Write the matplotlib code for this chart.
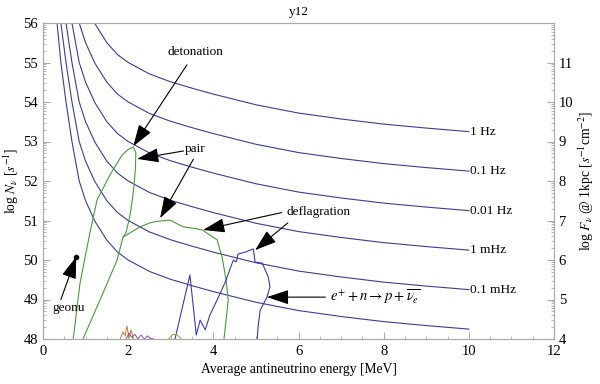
import numpy as np
import matplotlib
matplotlib.use('Agg')
from matplotlib import pyplot as plt

plt.rcParams['font.family'] = ['Liberation Serif', 'DejaVu Serif']
plt.rcParams['mathtext.fontset'] = 'stix'

# constant detection-rate contours: (energy, log N)
rate_labels = ['1 Hz', '0.1 Hz', '0.01 Hz', '1 mHz', '0.1 mHz', '']
rate_x = [
    [1.0, 1.22, 1.5, 1.75, 2.0, 2.5, 3.0, 3.5, 4.0, 5.0, 6.0, 7.0, 8.0, 9.0, 10.0],
    [0.68, 0.85, 1.0, 1.22, 1.5, 1.75, 2.0, 2.5, 3.0, 3.5, 4.0, 5.0, 6.0, 7.0, 8.0, 9.0, 10.0],
    [0.54, 0.68, 0.85, 1.0, 1.22, 1.5, 1.75, 2.0, 2.5, 3.0, 3.5, 4.0, 5.0, 6.0, 7.0, 8.0, 9.0, 10.0],
    [0.42, 0.54, 0.68, 0.85, 1.0, 1.22, 1.5, 1.75, 2.0, 2.5, 3.0, 3.5, 4.0, 5.0, 6.0, 7.0, 8.0, 9.0, 10.0],
    [0.33, 0.42, 0.54, 0.68, 0.85, 1.0, 1.22, 1.5, 1.75, 2.0, 2.5, 3.0, 3.5, 4.0, 5.0, 6.0, 7.0, 8.0, 9.0, 10.0],
    [0.30, 0.33, 0.42, 0.54, 0.68, 0.85, 1.0, 1.22, 1.5, 1.75, 2.0, 2.5, 3.0, 3.5, 4.0, 5.0, 6.0, 7.0, 8.0, 9.0, 10.0],
]
rate_y = [
    [56.50, 55.98, 55.50, 55.20, 55.00, 54.71, 54.51, 54.35, 54.20, 53.93, 53.72, 53.57, 53.44, 53.34, 53.25],
    [57.0, 56.0, 55.50, 54.98, 54.50, 54.20, 54.00, 53.71, 53.51, 53.35, 53.20, 52.93, 52.72, 52.57, 52.44, 52.34, 52.25],
    [57.0, 56.0, 55.0, 54.50, 53.98, 53.50, 53.20, 53.00, 52.71, 52.51, 52.35, 52.20, 51.93, 51.72, 51.57, 51.44, 51.34, 51.25],
    [57.0, 56.0, 55.0, 54.0, 53.50, 52.98, 52.50, 52.20, 52.00, 51.71, 51.51, 51.35, 51.20, 50.93, 50.72, 50.57, 50.44, 50.34, 50.25],
    [57.0, 56.0, 55.0, 54.0, 53.0, 52.50, 51.98, 51.50, 51.20, 51.00, 50.71, 50.51, 50.35, 50.20, 49.93, 49.72, 49.57, 49.44, 49.34, 49.25],
    [56.35, 56.0, 55.0, 54.0, 53.0, 52.0, 51.50, 50.98, 50.50, 50.20, 50.00, 49.71, 49.51, 49.35, 49.20, 48.93, 48.72, 48.57, 48.44, 48.34, 48.25],
]

# model tracks
deton_x = [0.71, 0.87, 1.10, 1.27, 1.57, 1.86, 2.0, 2.12, 2.18, 2.17, 2.12, 2.04, 1.95, 1.88]
deton_y = [48.0, 49.42, 50.68, 51.52, 52.15, 52.66, 52.80, 52.86, 52.72, 52.30, 51.70, 51.10, 50.70, 50.58]

pair_x = [0.94, 1.34, 1.74, 1.88, 2.28, 2.51, 2.68, 2.98, 3.29, 3.55, 3.74, 4.09, 4.21, 4.30, 4.35, 4.30, 4.25]
pair_y = [48.0, 48.99, 50.0, 50.58, 50.84, 50.94, 50.98, 51.01, 50.84, 50.80, 50.76, 50.51, 50.05, 49.49, 48.99, 48.48, 48.0]

defl_x = [3.10, 3.45, 3.60, 3.69, 3.81, 3.92, 4.09, 4.28, 4.47, 4.54, 4.58, 4.75, 4.94, 4.98,
          5.15, 5.29, 5.33, 5.26, 5.10, 5.05, 5.03]
defl_y = [48.0, 49.62, 48.10, 48.48, 48.23, 48.61, 48.99, 49.44, 50.0, 49.95, 50.15, 50.20, 50.28, 49.95,
          49.92, 49.57, 49.32, 49.06, 48.73, 48.30, 48.0]

# small spectra along the bottom
orange_x = [1.81, 1.88, 1.93, 1.97, 2.02, 2.07, 2.12]
orange_y = [48.0, 48.18, 48.08, 48.33, 48.03, 48.23, 48.0]
purple_x = [1.95, 2.02, 2.09, 2.16, 2.23, 2.30, 2.38, 2.45, 2.52, 2.60]
purple_y = [48.0, 48.15, 48.04, 48.12, 48.0, 48.10, 48.0, 48.08, 48.02, 48.0]
olive_x = [2.95, 3.05, 3.15, 3.25]
olive_y = [48.0, 48.12, 48.10, 48.0]

geonu_x, geonu_y = 0.78, 50.08

blue = '#3c3c96'
green = '#4a9a3a'

fig = plt.figure(figsize=(6, 3.84), dpi=100)
ax = fig.add_axes([43 / 600, 1 - 339 / 384, 511 / 600, 316 / 384])

for xs, ys, lab in zip(rate_x, rate_y, rate_labels):
    ax.plot(xs, ys, color=blue, lw=0.8)
    if lab:
        ax.text(xs[-1] + 0.02, ys[-1], lab, fontsize=9.5, va='center', ha='left')

ax.plot(deton_x, deton_y, color=green, lw=0.8)
ax.plot(pair_x, pair_y, color=green, lw=0.8)
ax.plot(defl_x, defl_y, color='#3a3ab0', lw=0.8)
ax.plot(orange_x, orange_y, color='#c08030', lw=0.7)
ax.plot(purple_x, purple_y, color='#9050a0', lw=0.7)
ax.plot(olive_x, olive_y, color='#a0a040', lw=0.7)
ax.plot(geonu_x, geonu_y, 'o', color='k', ms=3)

arrow = dict(arrowstyle='-|>,head_length=0.9,head_width=0.3', mutation_scale=15,
             color='k', lw=0.8, shrinkA=0, shrinkB=0)
tfs = 9.5
ax.annotate('', xy=(2.12, 52.88), xytext=(3.38, 54.94), arrowprops=arrow)
ax.text(3.57, 55.27, 'detonation', fontsize=tfs, ha='center', va='center')
ax.text(3.57, 52.80, 'pair', fontsize=tfs, ha='center', va='center')
ax.annotate('', xy=(2.21, 52.56), xytext=(3.30, 52.76), arrowprops=arrow)
ax.annotate('', xy=(2.75, 51.06), xytext=(3.53, 52.55), arrowprops=arrow)
ax.text(6.47, 51.22, 'deflagration', fontsize=tfs, ha='center', va='center')
ax.annotate('', xy=(3.76, 50.76), xytext=(5.60, 51.20), arrowprops=arrow)
ax.annotate('', xy=(4.98, 50.25), xytext=(5.75, 50.94), arrowprops=arrow)
ax.text(0.61, 48.78, 'geonu', fontsize=tfs, ha='center', va='center')
ax.annotate('', xy=(geonu_x, geonu_y), xytext=(0.42, 49.0), arrowprops=arrow)
ax.annotate('', xy=(5.26, 49.06), xytext=(6.63, 49.06), arrowprops=arrow)
ax.text(6.75, 49.06, r'$e^{+} + n \rightarrow p + \overline{\nu_e}$', fontsize=10.5,
        ha='left', va='center')

ax.set_xlim(0, 12)
ax.set_ylim(48, 56)
ax.set_xticks(range(0, 13, 2))
ax.set_xticks(np.arange(0, 12.01, 0.5), minor=True)
ax.set_yticks(range(48, 57))
ax.set_yticks([d + np.log10(k) for d in range(48, 56) for k in range(2, 10)], minor=True)
ax.set_xlabel('Average antineutrino energy [MeV]', fontsize=9.8)
ax.set_ylabel(r'log $N_\nu$ [$s^{-1}$]', fontsize=9.8, labelpad=2)
ax.set_title('y12', fontsize=9.5, pad=6)

ax2 = ax.twinx()
ax2.set_ylim(4, 12)
ax2.set_yticks(range(4, 12))
ax2.set_yticks([d + np.log10(k) for d in range(4, 12) for k in range(2, 10)], minor=True)
ax2.set_ylabel(r'log $F_\nu$ @ 1kpc [$s^{-1}$cm$^{-2}$]', fontsize=9.8, labelpad=2)

for a in (ax, ax2):
    for s in a.spines.values():
        s.set_color('#aaaaaa')
        s.set_linewidth(0.8)
    a.tick_params(which='both', direction='in', color='#aaaaaa', labelsize=10.5)
    a.tick_params(which='major', length=5)
    a.tick_params(which='minor', length=2.5)
ax.tick_params(axis='x', pad=4)

fig.savefig('out.png', dpi=100)
